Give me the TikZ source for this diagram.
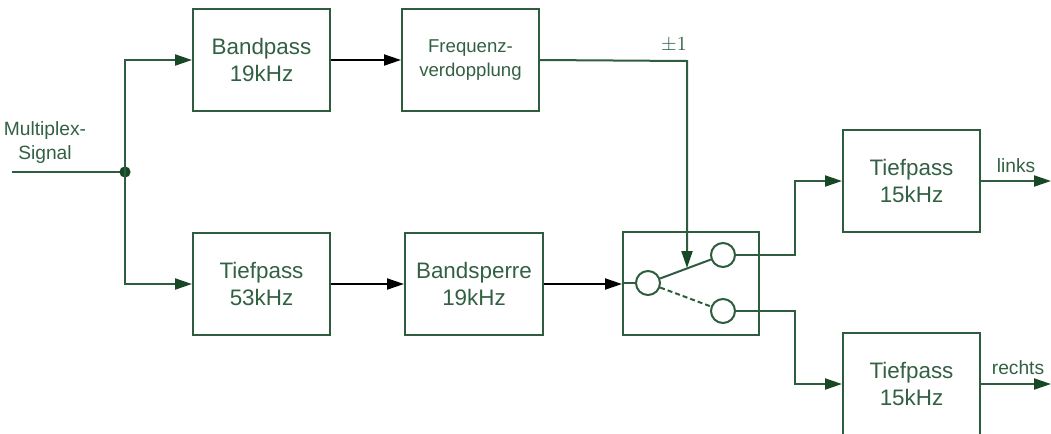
\documentclass[tikz,border=0pt]{standalone}
\usepackage{fontspec}
\setmainfont{Liberation Sans}
\usetikzlibrary{arrows.meta}
\definecolor{wire}{RGB}{46,92,62}
\definecolor{tipgreen}{RGB}{22,72,38}
\definecolor{txt}{RGB}{50,96,66}
\tikzset{
  block/.style={draw=wire, line width=1pt, rectangle, align=center,
    text=txt, font=\fontsize{11.2}{13.4}\selectfont, inner sep=0pt},
  lbl/.style={text=txt, font=\fontsize{9.6}{12}\selectfont, align=center, inner sep=0pt},
  wireline/.style={draw=wire, line width=1pt},
  garrow/.style={wireline, arrows={-{Triangle[length=8.5pt,width=5.5pt,fill=tipgreen,color=tipgreen]}}},
  karrow/.style={draw=black, line width=1pt, -{Triangle[length=8.5pt,width=5.5pt]}},
  port/.style={circle, draw=wire, line width=1pt, minimum size=12pt, inner sep=0pt, fill=white},
}
\begin{document}
\begin{tikzpicture}[x=0.5pt, y=-0.5pt]
\useasboundingbox (0,0) rectangle (1051,434);

% upper branch
\node[block, minimum width=68.5pt, minimum height=51pt] (bp) at (261.5,60) {Bandpass\\19kHz};
\node[block, minimum width=68.5pt, minimum height=51pt, font=\fontsize{9.3}{12.2}\selectfont] (fv) at (470.5,60) {Frequenz-\\verdopplung};

% lower branch
\node[block, minimum width=68.5pt, minimum height=51pt] (tp53) at (261.5,284) {Tiefpass\\53kHz};
\node[block, minimum width=69pt, minimum height=51pt] (bs) at (474,284) {Bandsperre\\19kHz};

% switch
\node[draw=wire, line width=1pt, minimum width=68pt, minimum height=51.5pt, inner sep=0pt] (sw) at (691,283.5) {};
\node[port] (cin) at (648,283) {};
\node[port] (cup) at (723,255) {};
\node[port] (cdn) at (723,311) {};
\draw[wireline] (cin) -- (cup);
\draw[wireline, dashed, dash pattern=on 2.5pt off 1.5pt] (cin) -- (cdn);
\draw[wireline] (sw.west |- cin) -- (cin.west);

% output filters
\node[block, minimum width=68.5pt, minimum height=51pt] (tpl) at (911.5,181) {Tiefpass\\15kHz};
\node[block, minimum width=68.5pt, minimum height=51pt] (tpr) at (911.5,384) {Tiefpass\\15kHz};

% input and junction
\coordinate (in) at (12,172);
\coordinate (j) at (125,172);
\node[lbl] (mx) at (45,143) {Multiplex-\\Signal};
\draw[wireline] (in) -- (j);
\fill[tipgreen] (j) circle (2.8pt);
\draw[garrow] (j) |- (bp.west);
\draw[garrow] (j) |- (tp53.west);

% forward path
\draw[karrow] (bp.east) -- (fv.west);
\draw[karrow] (tp53.east) -- (bs.west);
\draw[karrow] (bs.east) -- (sw.west |- bs.east);

% switching control
\coordinate (ctl) at (687,61);
\coordinate (ctltip) at (687,268);
\draw[garrow] (fv.east) -- (ctl) -- (ctltip);
\node[text=txt, font=\fontsize{9.6}{12}\selectfont, inner sep=0pt] (pm) at (674,45) {$\pm1$};

% switch outputs
\coordinate (bu) at (795,255);
\coordinate (bd) at (795,311);
\draw[garrow] (cup.east) -- (bu) |- (tpl.west);
\draw[garrow] (cdn.east) -- (bd) |- (tpr.west);

% stereo outputs
\coordinate (outl) at (1051,181);
\coordinate (outr) at (1051,384);
\draw[garrow] (tpl.east) -- (outl);
\draw[garrow] (tpr.east) -- (outr);
\node[lbl] (ll) at (1016,166) {links};
\node[lbl] (lr) at (1018,368) {rechts};
\end{tikzpicture}
\end{document}
